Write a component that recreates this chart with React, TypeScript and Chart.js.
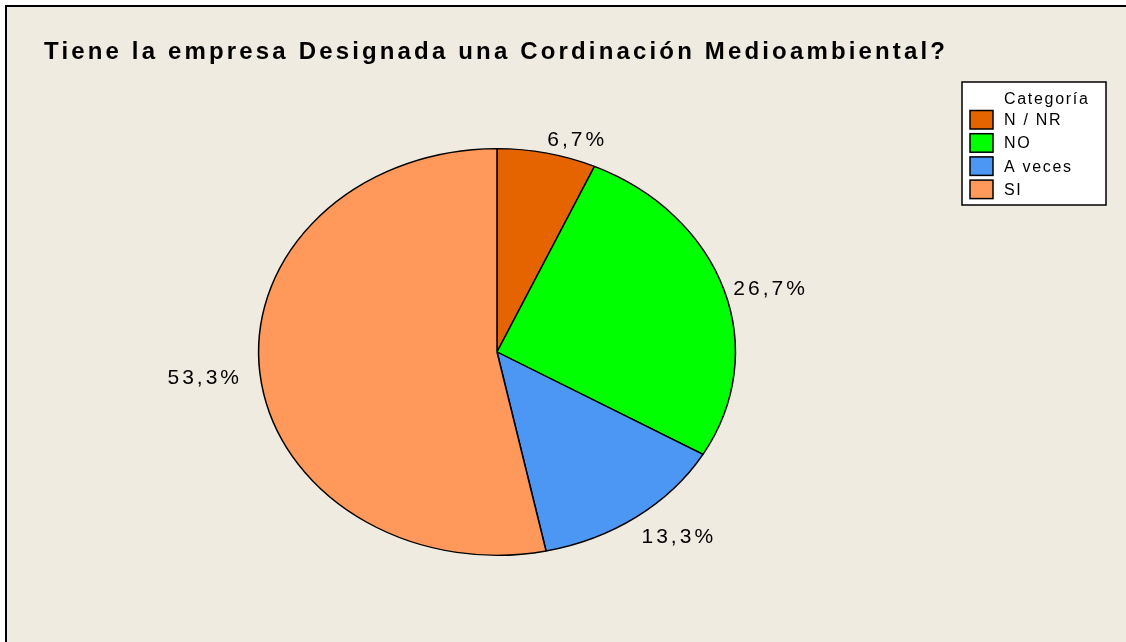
import React, { useEffect, useRef } from "react";
import { Chart, registerables } from "chart.js";

Chart.register(...registerables);

const chartTitle = "Tiene la empresa Designada una Cordinación Medioambiental?";
const legendTitle = "Categoría";
const categories = ["N / NR", "NO", "A veces", "SI"];
const percentValues = [6.7, 26.7, 13.3, 53.3];
const sliceColors = ["#E56400", "#00FF00", "#4C97F4", "#FF995B"];

const FONT = "Arial, 'Liberation Sans', sans-serif";
const SX = 238 / 203; // horizontal stretch of the pie (ellipse)

const framePlugin = {
  id: "frame",
  beforeDraw(chart: any) {
    const ctx = chart.ctx as CanvasRenderingContext2D;
    const W = chart.width;
    const H = chart.height;
    ctx.save();
    ctx.fillStyle = "#ffffff";
    ctx.fillRect(0, 0, W, H);
    ctx.fillStyle = "rgb(239,235,224)";
    ctx.fillRect(6, 5, W - 6, H - 5);
    ctx.fillStyle = "#000000";
    ctx.fillRect(5, 5, 2, H - 5);
    ctx.fillRect(5, 5, W - 5, 2);

    // title fitted to width
    ctx.font = `bold 24px ${FONT}`;
    (ctx as any).letterSpacing = "0px";
    const w0 = ctx.measureText(chartTitle).width;
    const target = 901;
    const sp = (target - w0) / (chartTitle.length - 1);
    (ctx as any).letterSpacing = `${sp}px`;
    ctx.textAlign = "left";
    ctx.textBaseline = "alphabetic";
    ctx.fillStyle = "#000000";
    ctx.fillText(chartTitle, 44, 59);

    // legend
    ctx.fillStyle = "#ffffff";
    ctx.fillRect(962, 82, 144, 123);
    ctx.strokeStyle = "#000000";
    ctx.lineWidth = 1.5;
    ctx.strokeRect(962, 82, 144, 123);
    ctx.font = `16px ${FONT}`;
    (ctx as any).letterSpacing = "1.7px";
    ctx.fillStyle = "#000000";
    ctx.fillText(legendTitle, 1004, 104);
    const labels = chart.data.labels as string[];
    const colors = chart.data.datasets[0].backgroundColor as string[];
    labels.forEach((lab, i) => {
      const y = 110.5 + i * 23.2;
      ctx.fillStyle = colors[i];
      ctx.fillRect(970, y, 23, 18.5);
      ctx.strokeStyle = "#000000";
      ctx.lineWidth = 1.5;
      ctx.strokeRect(970, y, 23, 18.5);
      ctx.fillStyle = "#000000";
      ctx.fillText(lab, 1004, 125 + i * 23.3);
    });
    ctx.restore();
  },
};

const ellipsePlugin = {
  id: "ellipse",
  beforeDatasetsDraw(chart: any) {
    const ctx = chart.ctx as CanvasRenderingContext2D;
    const a = chart.chartArea;
    const cx = (a.left + a.right) / 2;
    const cy = (a.top + a.bottom) / 2;
    ctx.save();
    ctx.translate(cx, cy);
    ctx.scale(SX, 1);
    ctx.translate(-cx, -cy);
  },
  afterDatasetsDraw(chart: any) {
    const ctx = chart.ctx as CanvasRenderingContext2D;
    ctx.restore();
    const meta = chart.getDatasetMeta(0);
    const data = chart.data.datasets[0].data as number[];
    ctx.save();
    ctx.font = `21px ${FONT}`;
    (ctx as any).letterSpacing = "3px";
    ctx.fillStyle = "#000000";
    ctx.textBaseline = "alphabetic";
    meta.data.forEach((arc: any, i: number) => {
      const p = arc.getProps(["x", "y", "startAngle", "endAngle", "outerRadius"], true);
      const mid = (p.startAngle + p.endAngle) / 2;
      const right = Math.cos(mid);
      const up = -Math.sin(mid);
      const ex = p.x + 1.05 * p.outerRadius * SX * right;
      const ey = p.y - 1.05 * p.outerRadius * up;
      const cyText = ey - up * 8 + 3;
      const txt = `${data[i].toFixed(1).replace(".", ",")}%`;
      if (right >= 0) {
        ctx.textAlign = "left";
        ctx.fillText(txt, ex - 2, cyText + 8);
      } else {
        ctx.textAlign = "right";
        ctx.fillText(txt, ex - 6, cyText + 6);
      }
    });
    ctx.restore();
  },
};

export default function App() {
  const ref = useRef<HTMLCanvasElement | null>(null);
  useEffect(() => {
    if (!ref.current) return;
    const chart = new Chart(ref.current, {
      type: "pie",
      data: {
        labels: categories,
        datasets: [
          {
            data: percentValues,
            backgroundColor: sliceColors,
            borderColor: "#000000",
            borderWidth: 1.3,
            clip: false as any,
          },
        ],
      },
      options: {
        responsive: false,
        animation: false,
        layout: { padding: { left: 293, right: 425, top: 148, bottom: 86 } },
        plugins: {
          legend: { display: false },
          title: { display: false },
          tooltip: { enabled: false },
        },
        events: [],
      },
      plugins: [framePlugin, ellipsePlugin],
    });
    return () => chart.destroy();
  }, []);
  return (
    <div style={{ position: "fixed", left: 0, top: 0, width: 1126, height: 642 }}>
      <canvas ref={ref} width={1126} height={642} style={{ display: "block" }} />
    </div>
  );
}
